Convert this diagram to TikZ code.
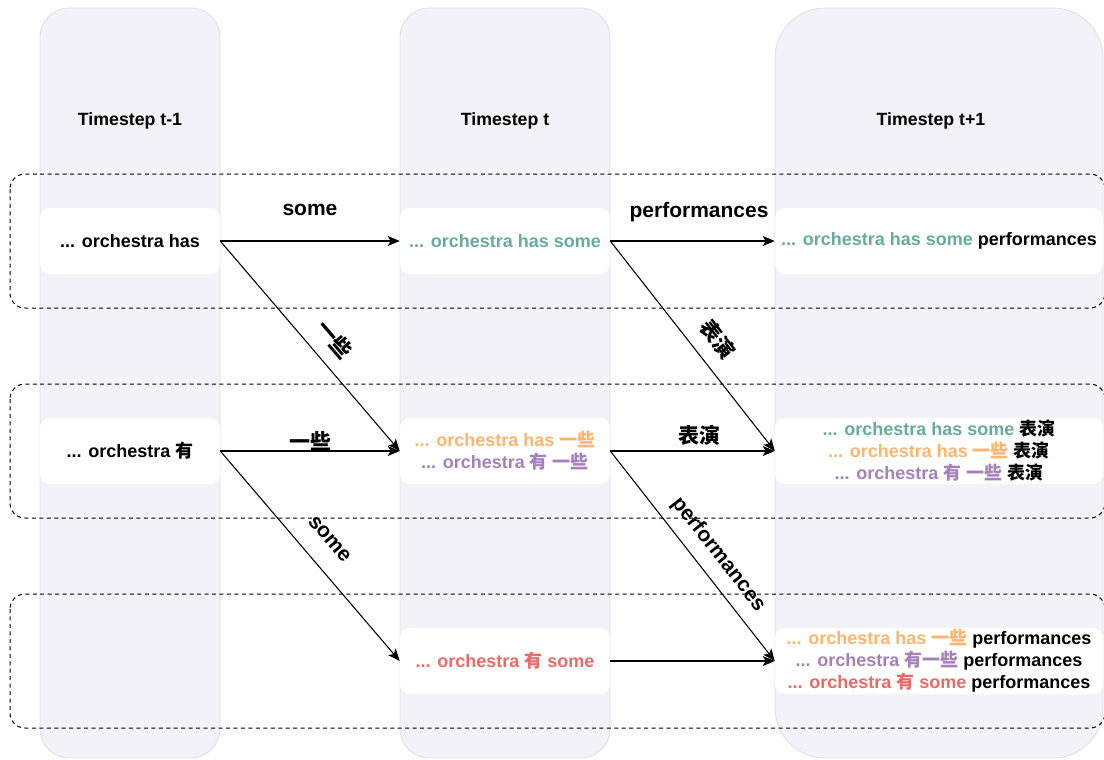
\documentclass[tikz,border=0pt]{standalone}
\usepackage{fontspec}
\setmainfont{Liberation Sans}
\newfontfamily\cjk{Noto Sans CJK SC}
\usetikzlibrary{arrows.meta}
\definecolor{myteal}{HTML}{67AB9F}
\definecolor{myorange}{HTML}{FFB570}
\definecolor{mypurple}{HTML}{A680B8}
\definecolor{myred}{HTML}{EA6B66}
\definecolor{colfill}{HTML}{F2F2F8}
\definecolor{coldraw}{HTML}{DCDCE2}
\newcommand{\zhtext}[1]{{\cjk\bfseries #1}}
\tikzset{
  colbox/.style={fill=colfill, draw=coldraw, line width=0.6pt},
  grpbox/.style={draw=black, dashed, dash pattern=on 3pt off 2.6pt, line width=0.75pt, rounded corners=11.25pt},
  wbox/.style={fill=white, draw=none, rounded corners=7.5pt, minimum height=49.5pt, align=center,
    font=\fontsize{13.5}{16.5}\selectfont\bfseries, inner sep=0pt},
  title/.style={font=\fontsize{13.3}{16}\selectfont\bfseries},
  arr/.style={draw=black, line width=0.8pt, -{Stealth[length=9pt,width=7.5pt,inset=2.2pt]}},
  lbl/.style={font=\fontsize{15.75}{18}\selectfont\bfseries, anchor=south, text height=11pt, text depth=3pt},
  lblzh/.style={font=\fontsize{15.75}{18}\selectfont\bfseries, anchor=south, text height=12pt, text depth=0pt},
}
\begin{document}
\begin{tikzpicture}[x=0.75pt,y=-0.75pt]
\useasboundingbox (0,0) rectangle (1104,760);
% columns
\path[colbox, rounded corners=22pt] (40,8) rectangle (220,758);
\path[colbox, rounded corners=22pt] (400,8) rectangle (610,758);
\path[colbox, rounded corners=37.5pt] (775,8) rectangle (1103,758);
\node[title] (t1) at (130,121) {Timestep t-1};
\node[title] (t2) at (505,121) {Timestep t};
\node[title] (t3) at (931,121) {Timestep t+1};
% dashed groups
\draw[grpbox] (10,174) rectangle (1105,308);
\draw[grpbox] (10,384) rectangle (1105,518);
\draw[grpbox] (10,594) rectangle (1105,728);
% boxes
\node[wbox, minimum width=135pt] (a1) at (130,241) {... orchestra has};
\node[wbox, minimum width=157.5pt, text=myteal] (b1) at (505,241) {... orchestra has some};
\node[wbox, minimum width=246pt] (c1) at (939,241) {\textcolor{myteal}{... orchestra has some} performances};
\node[wbox, minimum width=135pt] (a2) at (130,451) {... orchestra \zhtext{有}};
\node[wbox, minimum width=157.5pt] (b2) at (505,451) {\textcolor{myorange}{... orchestra has \zhtext{一些}}\\ \textcolor{mypurple}{... orchestra \zhtext{有} \zhtext{一些}}};
\node[wbox, minimum width=246pt] (c2) at (939,451) {\textcolor{myteal}{... orchestra has some} \zhtext{表演}\\
 \textcolor{myorange}{... orchestra has \zhtext{一些}} \zhtext{表演}\\
 \textcolor{mypurple}{... orchestra \zhtext{有} \zhtext{一些}} \zhtext{表演}};
\node[wbox, minimum width=157.5pt, text=myred] (b3) at (505,661) {... orchestra \zhtext{有} some};
\node[wbox, minimum width=246pt] (c3) at (939,661) {\textcolor{myorange}{... orchestra has \zhtext{一些}} performances\\
 \textcolor{mypurple}{... orchestra \zhtext{有一些}} performances\\
 \textcolor{myred}{... orchestra \zhtext{有} some} performances};
% arrows
\draw[arr] (a1.east) -- node[lbl, midway, inner sep=15.5pt] {some} (b1.west);
\draw[arr] (a1.east) -- node[lblzh, pos=0.54, sloped, inner sep=11.2pt] {\zhtext{一些}} (b2.west);
\draw[arr] (a2.east) -- node[lblzh, midway, inner sep=0.6pt] {\zhtext{一些}} (b2.west);
\draw[arr] (a2.east) -- node[lbl, pos=0.5, sloped, inner sep=11.7pt] {some} (b3.west);
\draw[arr] (b1.east) -- node[lbl, pos=0.54, inner sep=14.4pt] {performances} (c1.west);
\draw[arr] (b1.east) -- node[lblzh, pos=0.54, sloped, inner sep=11.8pt] {\zhtext{表演}} (c2.west);
\draw[arr] (b2.east) -- node[lblzh, pos=0.54, inner sep=5.2pt] {\zhtext{表演}} (c2.west);
\draw[arr] (b2.east) -- node[lbl, pos=0.555, sloped, inner sep=8.5pt] {performances} (c3.west);
\draw[arr] (b3.east) -- (c3.west);
\end{tikzpicture}
\end{document}
